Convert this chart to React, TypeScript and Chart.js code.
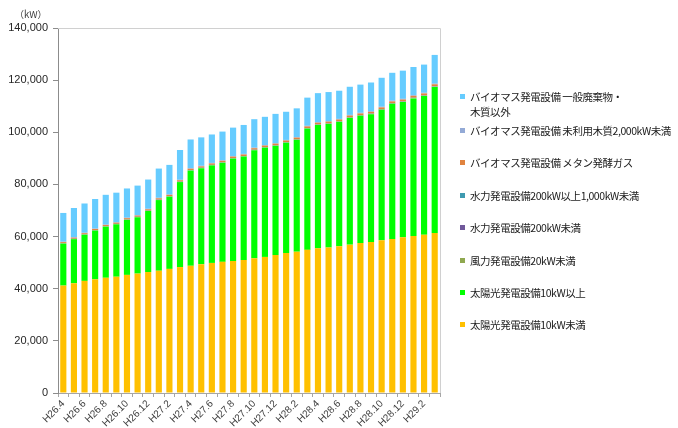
import React, { useEffect, useRef } from "react";
import { Chart, registerables } from "chart.js";

Chart.register(...registerables);

const months = [
  "H26.4", "H26.5", "H26.6", "H26.7", "H26.8", "H26.9", "H26.10", "H26.11", "H26.12",
  "H27.1", "H27.2", "H27.3", "H27.4", "H27.5", "H27.6", "H27.7", "H27.8", "H27.9", "H27.10", "H27.11", "H27.12",
  "H28.1", "H28.2", "H28.3", "H28.4", "H28.5", "H28.6", "H28.7", "H28.8", "H28.9", "H28.10", "H28.11", "H28.12",
  "H29.1", "H29.2", "H29.3",
];

const solarSmall = [
  41200, 42100, 43000, 43600, 44200, 44600, 45300, 45800, 46400, 46900, 47600, 48300,
  48800, 49400, 49900, 50300, 50600, 51000, 51700, 52200, 52900, 53700, 54200, 54900,
  55500, 55800, 56300, 56900, 57500, 57900, 58600, 59100, 59700, 60200, 60700, 61400,
];
const solarLarge = [
  16100, 16900, 17700, 18700, 19600, 20100, 21100, 21600, 23400, 27100, 27700, 32600,
  36500, 36800, 37400, 38000, 39300, 39700, 41400, 41900, 41900, 42300, 42900, 46500,
  47300, 47400, 47700, 48600, 48800, 49000, 50000, 51800, 51900, 52800, 53200, 56000,
];
const wind = [
  50, 50, 50, 55, 55, 55, 60, 60, 60, 60, 60, 60,
  65, 65, 65, 65, 65, 70, 70, 70, 70, 70, 70, 75,
  75, 75, 75, 75, 80, 80, 80, 80, 80, 80, 85, 85,
];
const hydroSmall = [
  30, 30, 30, 30, 30, 30, 30, 30, 35, 35, 35, 35,
  35, 35, 35, 35, 35, 40, 40, 40, 40, 40, 40, 40,
  40, 45, 45, 45, 45, 45, 45, 45, 50, 50, 50, 50,
];
const hydroMid = [
  80, 80, 80, 80, 90, 90, 90, 90, 90, 90, 90, 90,
  100, 100, 100, 100, 100, 100, 100, 100, 110, 110, 110, 110,
  110, 110, 110, 120, 120, 120, 120, 120, 120, 120, 120, 120,
];
const methane = [
  420, 430, 440, 450, 450, 460, 470, 470, 480, 490, 500, 510,
  520, 530, 540, 550, 560, 570, 580, 590, 600, 610, 620, 630,
  640, 650, 660, 670, 680, 690, 700, 710, 720, 730, 740, 750,
];
const unusedWood = [
  180, 180, 190, 190, 190, 200, 200, 200, 210, 210, 210, 210,
  220, 220, 220, 220, 230, 230, 230, 230, 240, 240, 240, 240,
  250, 250, 250, 250, 260, 260, 260, 260, 270, 270, 270, 270,
];
const bioGeneral = [
  11000, 11200, 11200, 11300, 11400, 11300, 11200, 11300, 11200, 11200, 11300, 11400,
  11000, 10900, 10900, 11000, 10900, 11100, 10900, 10800, 11200, 10800, 11000, 10800,
  11100, 11100, 10800, 10800, 10800, 11000, 11100, 10700, 10800, 10800, 10800, 11000,
];

const yTicks = [0, 20000, 40000, 60000, 80000, 100000, 120000, 140000];

const seriesNames = [
  "太陽光発電設備10kW未満",
  "太陽光発電設備10kW以上",
  "風力発電設備20kW未満",
  "水力発電設備200kW未満",
  "水力発電設備200kW以上1,000kW未満",
  "バイオマス発電設備 メタン発酵ガス",
  "バイオマス発電設備 未利用木質2,000kW未満",
  "バイオマス発電設備 一般廃棄物・\n木質以外",
];
const seriesColors = [
  "#FFC000", "#00FF00", "#8FA84F", "#70589A", "#3F9AB0", "#E0833F", "#93AAD6", "#66CCFF",
];
const seriesValues = [solarSmall, solarLarge, wind, hydroSmall, hydroMid, methane, unusedWood, bioGeneral];

const FONT_JP = "'Noto Sans CJK JP', 'Noto Sans', sans-serif";

const sideLegend = {
  id: "sideLegend",
  afterDraw(chart: any) {
    const ctx = chart.ctx;
    const area = chart.chartArea;
    ctx.save();
    // plot frame top & right
    ctx.strokeStyle = "#D0D0D0";
    ctx.lineWidth = 1;
    ctx.beginPath();
    ctx.moveTo(area.left, Math.round(area.top) + 0.5);
    ctx.lineTo(Math.round(area.right) + 0.5, Math.round(area.top) + 0.5);
    ctx.lineTo(Math.round(area.right) + 0.5, area.bottom);
    ctx.stroke();

    // unit label
    ctx.fillStyle = "#404040";
    ctx.font = "9.5px " + FONT_JP;
    ctx.textAlign = "right";
    ctx.textBaseline = "middle";
    ctx.fillText("（kW）", 47, 14);

    // legend
    ctx.textAlign = "left";
    ctx.font = "10.5px " + FONT_JP;
    (ctx as any).letterSpacing = "-0.45px";
    const ds = chart.data.datasets.slice().reverse();
    let y = 96;
    ds.forEach((d: any, i: number) => {
      const lines = String(d.label).split("\n");
      ctx.fillStyle = d.backgroundColor;
      ctx.fillRect(460, Math.round(y) - 2, 5, 5);
      ctx.fillStyle = "#1A1A1A";
      lines.forEach((ln: string, j: number) => ctx.fillText(ln, 470, y + 1 + j * 14.7));
      y += i === 0 ? 34 : 32.4;
    });
    ctx.restore();
  },
};

export default function App() {
  const ref = useRef<HTMLCanvasElement | null>(null);
  useEffect(() => {
    if (!ref.current) return;
    const chart = new Chart(ref.current, {
      type: "bar",
      data: {
        labels: months,
        datasets: seriesValues.map((vals, i) => ({
          label: seriesNames[i],
          data: vals,
          backgroundColor: seriesColors[i],
          borderWidth: 0,
          categoryPercentage: 1,
          barPercentage: 0.58,
        })),
      },
      options: {
        responsive: false,
        animation: false,
        layout: { padding: { left: 0, right: 238, top: 28, bottom: 0 } },
        plugins: { legend: { display: false }, tooltip: { enabled: false } },
        scales: {
          x: {
            stacked: true,
            grid: {
              display: true,
              drawOnChartArea: false,
              drawTicks: true,
              tickLength: 4,
              color: "#A6A6A6",
              offset: true,
            },
            border: { color: "#A6A6A6", width: 1 },
            ticks: {
              autoSkip: false,
              minRotation: 45,
              maxRotation: 45,
              padding: 1,
              color: "#404040",
              font: { family: "'Liberation Sans', Arial, sans-serif", size: 10 },
              callback: (_v: any, idx: number) => (idx % 2 === 0 ? months[idx] : ""),
            },
            afterFit: (scale: any) => {
              scale.height = 35;
            },
          },
          y: {
            stacked: true,
            min: 0,
            max: 140000,
            afterBuildTicks: (scale: any) => {
              scale.ticks = yTicks.map((v) => ({ value: v }));
            },
            grid: {
              display: true,
              drawOnChartArea: false,
              drawTicks: true,
              tickLength: 5,
              color: "#8C8C8C",
            },
            border: { color: "#8C8C8C", width: 1 },
            ticks: {
              padding: 5,
              color: "#262626",
              font: { family: "'Liberation Sans', Arial, sans-serif", size: 11 },
              callback: (v: any) => Number(v).toLocaleString("en-US"),
            },
            afterFit: (scale: any) => {
              scale.width = 58;
            },
          },
        },
      },
      plugins: [sideLegend],
    });
    return () => chart.destroy();
  }, []);
  return (
    <div style={{ position: "absolute", left: 0, top: 0, width: 678, height: 428, background: "#fff" }}>
      <canvas ref={ref} width={678} height={428} style={{ width: 678, height: 428 }} />
    </div>
  );
}
